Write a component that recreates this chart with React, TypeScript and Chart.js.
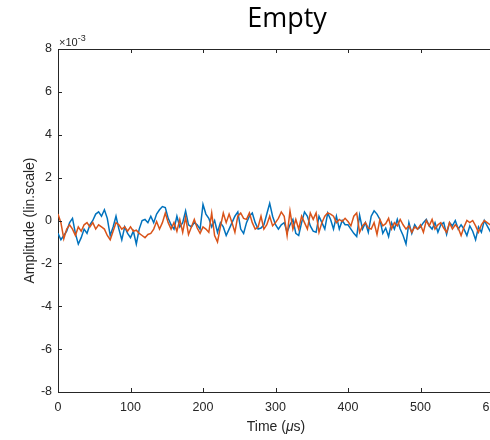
import React, { useEffect, useRef } from "react";
import { Chart, registerables } from "chart.js";

Chart.register(...registerables);

// Amplitudes in units of 1e-3 (lin. scale), sampled every 4 µs from 0 to 600 µs
const TIME_STEP_US = 4;
const BLUE_SERIES = [
  -0.6, -0.9, -0.7, -0.5, -0.1, 0.1, -0.6, -1.1, -0.8, -0.4, -0.6, -0.2, 0.0, 0.3, 0.4, 0.2, 0.5, 0.1, -0.7, -0.3, 0.2, -0.4, -0.9, -0.3, -0.6, -0.8,
  -0.5, -1.1, -0.4, 0.0, 0.05, -0.1, 0.2, -0.1, 0.3, 0.5, 0.65, 0.6, 0.1, -0.2, -0.4, 0.2, -0.3, -0.1, 0.45, -0.2, -0.3, -0.1, -0.2, -0.4, 0.75,
  0.3, 0.1, -0.3, 0.0, -0.55, -0.1, -0.3, -0.7, -0.4, -0.1, 0.2, 0.4, -0.4, -0.6, -0.1, 0.2, 0.35, -0.1, -0.4, -0.35, -0.2, 0.3, 0.8, 0.2, -0.2,
  -0.4, -0.2, -0.1, -0.55, -0.2, 0.05, -0.6, -0.7, -0.1, 0.4, 0.2, -0.25, -0.5, -0.55, 0.2, -0.1, -0.4, 0.35, 0.05, -0.4, 0.2, -0.4, 0.0, -0.2, -0.2,
  -0.4, -0.6, -0.75, 0.25, -0.4, -0.1, -0.55, 0.2, 0.45, 0.3, 0.05, -0.6, -0.35, -0.75, -0.1, -0.4, 0.05, -0.4, -0.7, -1.1, -0.1, -0.6, -0.2, -0.4, -0.3,
  -0.1, 0.05, -0.25, -0.4, -0.1, -0.55, -0.2, -0.1, -0.65, -0.1, -0.25, 0.0, -0.4, -0.2, -0.4, -0.7, -0.25, -0.5, -0.9, -0.3, -0.55, 0.0, -0.25, -0.5, -0.3,
];
const ORANGE_SERIES = [
  0.3, -0.1, -0.85, -0.4, -0.2, -0.4, -0.7, -0.3, -0.5, -0.2, -0.1, -0.3, -0.1, -0.4, -0.2, -0.3, -0.4, -0.7, -0.9, -0.5, -0.1, -0.2, -0.4, -0.3, -0.5, -0.3,
  -0.5, -0.45, -0.6, -0.7, -0.8, -0.65, -0.6, -0.4, -0.05, -0.4, -0.1, 0.35, -0.1, -0.4, -0.1, -0.5, 0.05, -0.55, 0.15, -0.65, -0.3, 0.05, -0.35, -0.6, -0.3,
  -0.4, -0.55, 0.35, -0.7, -1.0, -0.3, 0.35, -0.1, 0.3, -0.1, -0.55, 0.2, 0.35, 0.1, 0.05, 0.35, -0.1, -0.4, -0.3, 0.2, -0.4, -0.2, 0.2, -0.25, -0.1,
  0.1, 0.4, 0.2, -0.7, 0.45, -0.4, 0.05, -0.4, 0.2, -0.1, -0.4, 0.35, 0.05, 0.35, -0.55, -0.1, 0.2, 0.35, 0.3, 0.2, -0.1, 0.05, -0.05, 0.1, -0.05,
  -0.25, 0.2, 0.35, -0.55, -0.25, -0.1, -0.35, -0.4, -0.1, -0.65, 0.05, -0.25, -0.15, 0.1, -0.4, -0.1, -0.25, 0.05, -0.2, -0.4, -0.25, -0.55, -0.3, -0.4, -0.2,
  -0.55, 0.0, -0.25, 0.05, -0.4, -0.2, -0.1, -0.35, -0.55, -0.1, -0.4, -0.2, -0.35, -0.7, -0.3, 0.0, -0.1, 0.0, -0.25, -0.55, -0.2, 0.0, -0.1, -0.2, -0.05,
];
const TIME_US = BLUE_SERIES.map((_, i) => i * TIME_STEP_US);
const X_TICKS = [0, 100, 200, 300, 400, 500, 600];
const Y_TICKS = [-8, -6, -4, -2, 0, 2, 4, 6, 8];

const TITLE = "Empty";
const Y_TITLE = "Amplitude (lin.scale)";
const EXPONENT_LABEL = ["\u00d710", "-3"];

const AXIS_COLOR = "#262626";
const FONT = "'Liberation Sans', Arial, sans-serif";

const decorPlugin = {
  id: "matlabDecor",
  afterDraw(chart: any) {
    const { ctx, chartArea } = chart;
    const xs = chart.scales.x;
    const ys = chart.scales.y;
    const { left, right, top, bottom } = chartArea;
    ctx.save();
    ctx.strokeStyle = AXIS_COLOR;
    ctx.lineWidth = 1;
    // top border
    ctx.beginPath();
    ctx.moveTo(left, Math.round(top) + 0.5);
    ctx.lineTo(right + 20, Math.round(top) + 0.5);
    ctx.stroke();
    // inward ticks
    const tl = 4;
    ctx.beginPath();
    X_TICKS.forEach((v) => {
      const px = Math.round(xs.getPixelForValue(v)) + 0.5;
      ctx.moveTo(px, bottom);
      ctx.lineTo(px, bottom - tl);
      ctx.moveTo(px, top);
      ctx.lineTo(px, top + tl);
    });
    Y_TICKS.forEach((v) => {
      const py = Math.round(ys.getPixelForValue(v)) + 0.5;
      ctx.moveTo(left, py);
      ctx.lineTo(left + tl, py);
    });
    ctx.stroke();

    // title
    ctx.fillStyle = "#000";
    ctx.font = `27px 'Open Sans', 'Noto Sans', sans-serif`;
    ctx.textAlign = "center";
    ctx.textBaseline = "middle";
    ctx.fillText(TITLE, 287, 19);

    // exponent label
    ctx.fillStyle = AXIS_COLOR;
    ctx.textAlign = "left";
    ctx.textBaseline = "alphabetic";
    ctx.font = `11px ${FONT}`;
    ctx.fillText(EXPONENT_LABEL[0], left + 1, top - 3);
    const w = ctx.measureText(EXPONENT_LABEL[0]).width;
    ctx.font = `9px ${FONT}`;
    ctx.fillText(EXPONENT_LABEL[1], left + 1 + w, top - 8);

    // y title
    ctx.save();
    ctx.translate(30, (top + bottom) / 2);
    ctx.rotate(-Math.PI / 2);
    ctx.font = `14px ${FONT}`;
    ctx.textAlign = "center";
    ctx.textBaseline = "middle";
    ctx.fillText(Y_TITLE, 0, 0);
    ctx.restore();

    // x title with italic mu
    const parts: [string, string][] = [
      ["Time (", `14px ${FONT}`],
      ["\u03bc", `italic 14px ${FONT}`],
      ["s)", `14px ${FONT}`],
    ];
    let total = 0;
    parts.forEach(([t, f]) => {
      ctx.font = f;
      total += ctx.measureText(t).width;
    });
    let cx = 276 - total / 2;
    ctx.textBaseline = "middle";
    ctx.textAlign = "left";
    parts.forEach(([t, f]) => {
      ctx.font = f;
      ctx.fillText(t, cx, 427);
      cx += ctx.measureText(t).width;
    });
    ctx.restore();
  },
};

export default function App() {
  const ref = useRef<HTMLCanvasElement | null>(null);
  useEffect(() => {
    if (!ref.current) return;
    const chart = new Chart(ref.current, {
      type: "line",
      data: {
        datasets: [
          {
            label: "series 2",
            data: ORANGE_SERIES.map((y, i) => ({ x: TIME_US[i], y })),
            borderColor: "#D95319",
            borderWidth: 1.5,
            pointRadius: 0,
            tension: 0,
            order: 0,
          },
          {
            label: "series 1",
            data: BLUE_SERIES.map((y, i) => ({ x: TIME_US[i], y })),
            borderColor: "#0072BD",
            borderWidth: 1.5,
            pointRadius: 0,
            tension: 0,
            order: 1,
          },
        ],
      },
      options: {
        animation: false,
        responsive: true,
        maintainAspectRatio: false,
        layout: { padding: { top: 49, left: 0, right: 0, bottom: 0 } },
        plugins: { legend: { display: false }, tooltip: { enabled: false }, title: { display: false } },
        scales: {
          x: {
            type: "linear",
            min: 0,
            max: 600,
            afterBuildTicks: (axis: any) => {
              axis.ticks = X_TICKS.map((v) => ({ value: v }));
            },
            afterFit: (axis: any) => {
              axis.height = 48;
              axis.paddingLeft = 0;
              axis.paddingRight = 0;
            },
            grid: { display: false, drawTicks: false },
            border: { display: true, color: AXIS_COLOR, width: 1 },
            ticks: {
              padding: 8,
              color: AXIS_COLOR,
              font: { family: FONT, size: 12.5 },
              maxRotation: 0,
              autoSkip: false,
            },
          },
          y: {
            type: "linear",
            min: -8,
            max: 8,
            afterBuildTicks: (axis: any) => {
              axis.ticks = Y_TICKS.map((v) => ({ value: v }));
            },
            afterFit: (axis: any) => {
              axis.width = 58;
              axis.paddingTop = 0;
              axis.paddingBottom = 0;
            },
            grid: { display: false, drawTicks: false },
            border: { display: true, color: AXIS_COLOR, width: 1 },
            ticks: {
              padding: 6,
              color: AXIS_COLOR,
              font: { family: FONT, size: 12.5 },
              autoSkip: false,
            },
          },
        },
      },
      plugins: [decorPlugin],
    } as any);
    return () => chart.destroy();
  }, []);
  return (
    <div style={{ position: "fixed", left: 0, top: 0, width: 490, height: 440, overflow: "hidden", background: "#fff" }}>
      <div style={{ position: "relative", width: 493, height: 440 }}>
        <canvas ref={ref} />
      </div>
    </div>
  );
}
